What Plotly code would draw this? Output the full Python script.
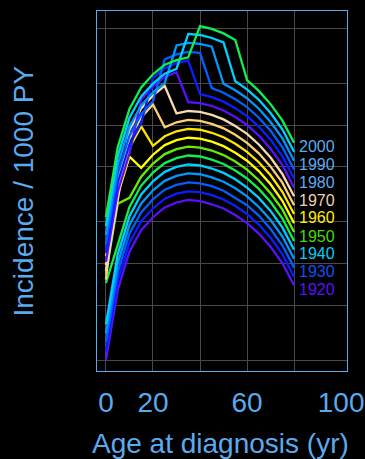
import numpy as np
import plotly.graph_objects as go

# Age at diagnosis (years)
ages = [0, 5, 10, 15, 20, 25, 30, 35, 40, 45, 50, 55, 60, 65, 70, 75, 80]

# Birth cohorts, 5-year steps
cohorts = [1920, 1925, 1930, 1935, 1940, 1945, 1950, 1955, 1960,
           1965, 1970, 1975, 1980, 1985, 1990, 1995, 2000]

# Incidence per 1000 person-years, one list per cohort
inc_1920 = [0.0100, 0.0321, 0.0609, 0.0871, 0.108, 0.127, 0.138, 0.144, 0.141, 0.134, 0.125, 0.112, 0.0979, 0.0822, 0.0660, 0.0503, 0.0346]
inc_1925 = [0.0116, 0.0372, 0.0707, 0.101, 0.125, 0.147, 0.160, 0.166, 0.164, 0.156, 0.145, 0.130, 0.114, 0.0954, 0.0766, 0.0584, 0.0401]
inc_1930 = [0.0135, 0.0432, 0.0820, 0.117, 0.146, 0.171, 0.185, 0.193, 0.190, 0.181, 0.168, 0.150, 0.132, 0.111, 0.0888, 0.0677, 0.0466]
inc_1935 = [0.0156, 0.0501, 0.0951, 0.136, 0.169, 0.198, 0.215, 0.224, 0.221, 0.210, 0.195, 0.175, 0.153, 0.128, 0.103, 0.0786, 0.0540]
inc_1940 = [0.0181, 0.0582, 0.110, 0.158, 0.196, 0.230, 0.250, 0.260, 0.256, 0.243, 0.226, 0.203, 0.177, 0.149, 0.120, 0.0911, 0.0627]
inc_1945 = [0.0361, 0.0675, 0.128, 0.183, 0.227, 0.266, 0.289, 0.302, 0.297, 0.282, 0.262, 0.235, 0.206, 0.173, 0.139, 0.106, 0.0727]
inc_1950 = [0.0419, 0.135, 0.149, 0.212, 0.264, 0.309, 0.336, 0.350, 0.344, 0.328, 0.304, 0.273, 0.239, 0.200, 0.161, 0.123, 0.0844]
inc_1955 = [0.0486, 0.156, 0.296, 0.246, 0.306, 0.359, 0.390, 0.406, 0.400, 0.380, 0.353, 0.316, 0.277, 0.233, 0.187, 0.142, 0.0979]
inc_1960 = [0.0564, 0.181, 0.344, 0.491, 0.355, 0.416, 0.452, 0.471, 0.464, 0.441, 0.409, 0.367, 0.321, 0.270, 0.217, 0.165, 0.114]
inc_1965 = [0.0381, 0.210, 0.399, 0.570, 0.707, 0.483, 0.525, 0.547, 0.538, 0.512, 0.475, 0.426, 0.373, 0.313, 0.251, 0.192, 0.132]
inc_1970 = [0.0442, 0.142, 0.462, 0.661, 0.821, 0.962, 0.609, 0.634, 0.624, 0.594, 0.551, 0.494, 0.433, 0.363, 0.292, 0.222, 0.153]
inc_1975 = [0.0513, 0.165, 0.312, 0.767, 0.952, 1.12, 1.21, 0.736, 0.724, 0.689, 0.639, 0.573, 0.502, 0.421, 0.338, 0.258, 0.177]
inc_1980 = [0.0595, 0.191, 0.362, 0.518, 1.10, 1.29, 1.41, 1.47, 0.840, 0.799, 0.741, 0.665, 0.582, 0.489, 0.393, 0.299, 0.206]
inc_1985 = [0.0690, 0.222, 0.420, 0.601, 0.746, 1.50, 1.63, 1.70, 1.67, 0.927, 0.860, 0.772, 0.676, 0.567, 0.456, 0.347, 0.239]
inc_1990 = [0.0801, 0.257, 0.488, 0.697, 0.866, 1.01, 1.89, 1.97, 1.94, 1.85, 0.998, 0.895, 0.784, 0.658, 0.528, 0.403, 0.277]
inc_1995 = [0.0929, 0.298, 0.566, 0.809, 1.00, 1.18, 1.28, 2.29, 2.25, 2.14, 1.99, 1.04, 0.910, 0.764, 0.613, 0.467, 0.321]
inc_2000 = [0.108, 0.346, 0.656, 0.939, 1.17, 1.37, 1.48, 1.55, 2.61, 2.49, 2.31, 2.07, 1.06, 0.886, 0.711, 0.542, 0.373]

incidence = [inc_1920, inc_1925, inc_1930, inc_1935, inc_1940, inc_1945,
             inc_1950, inc_1955, inc_1960, inc_1965, inc_1970, inc_1975,
             inc_1980, inc_1985, inc_1990, inc_1995, inc_2000]

# Rainbow cycle used for the cohort lines
line_colors = ["#5a10ff", "#0a1eff", "#0060ff", "#0098ff", "#00d0ff", "#10f050",
               "#66ee00", "#ffff00", "#ffe600", "#ffd070", "#f8d8b0",
               "#5a10ff", "#0a1eff", "#0060ff", "#0098ff", "#00d0ff", "#10f050"]

# Cohort labels at the right end of the curves
label_years = [1920, 1930, 1940, 1950, 1960, 1970, 1980, 1990, 2000]
label_colors = ["#5a10ff", "#1050f0", "#00d0ee", "#44dd00", "#ffee00",
                "#f2d2ad", "#5aaaee", "#5aaaee", "#5aaaee"]

x_tickvals = [0, 20, 60, 100]
x_gridvals = [0, 20, 40, 60, 80]
y_gridvals = [0.01, 0.025, 0.05, 0.1, 0.25, 0.5, 1, 2.5]

AXIS_BLUE = "#5aaaee"
GRID = "#4a4a4a"
FONT = "Liberation Sans, Arial, sans-serif"

fig = go.Figure()
for year, vals, col in zip(cohorts, incidence, line_colors):
    fig.add_trace(go.Scatter(
        x=ages, y=vals, mode="lines", name=str(year),
        line=dict(color=col, width=2.3), hoverinfo="skip", showlegend=False,
    ))

annotations = []
for year, col in zip(label_years, label_colors):
    end_val = incidence[cohorts.index(year)][-1]
    annotations.append(dict(
        x=ages[-1] + 1.2, y=np.log10(end_val), xref="x", yref="y",
        text=str(year), showarrow=False, xanchor="left", yanchor="middle",
        yshift=-4, font=dict(family=FONT, size=16, color=col),
    ))

annotations.append(dict(
    text="Incidence / 1000 PY", xref="paper", yref="paper", x=0, y=0.5,
    xshift=-74.5, xanchor="center", yanchor="middle", textangle=-90,
    showarrow=False, font=dict(family=FONT, size=28, color=AXIS_BLUE),
))
annotations.append(dict(
    text="Age at diagnosis (yr)", xref="paper", yref="paper", x=0.5, y=0,
    xshift=-1.5, yshift=-72, xanchor="center", yanchor="middle",
    showarrow=False, font=dict(family=FONT, size=28, color=AXIS_BLUE),
))

fig.update_layout(
    width=365, height=459,
    margin=dict(l=97, r=18, t=11, b=88),
    paper_bgcolor="black", plot_bgcolor="black",
    annotations=annotations,
    xaxis=dict(
        range=[-3.8, 102.5], tickmode="array", tickvals=x_tickvals,
        ticktext=[str(v) for v in x_tickvals], ticks="",
        showgrid=False, zeroline=False, automargin=False,
        ticklabelstandoff=6,
        showline=True, mirror=True, linecolor=AXIS_BLUE, linewidth=1,
        tickfont=dict(family=FONT, size=28, color=AXIS_BLUE),
        minor=dict(tickmode="array", tickvals=x_gridvals, showgrid=True,
                   gridcolor=GRID, gridwidth=1, ticks=""),
    ),
    yaxis=dict(
        type="log", range=[-2.0795, 0.5257], tickmode="array",
        tickvals=y_gridvals, showticklabels=False, ticks="",
        showgrid=True, gridcolor=GRID, gridwidth=1, zeroline=False,
        automargin=False,
        showline=True, mirror=True, linecolor=AXIS_BLUE, linewidth=1,
    ),
)

fig.write_html("out.html")
